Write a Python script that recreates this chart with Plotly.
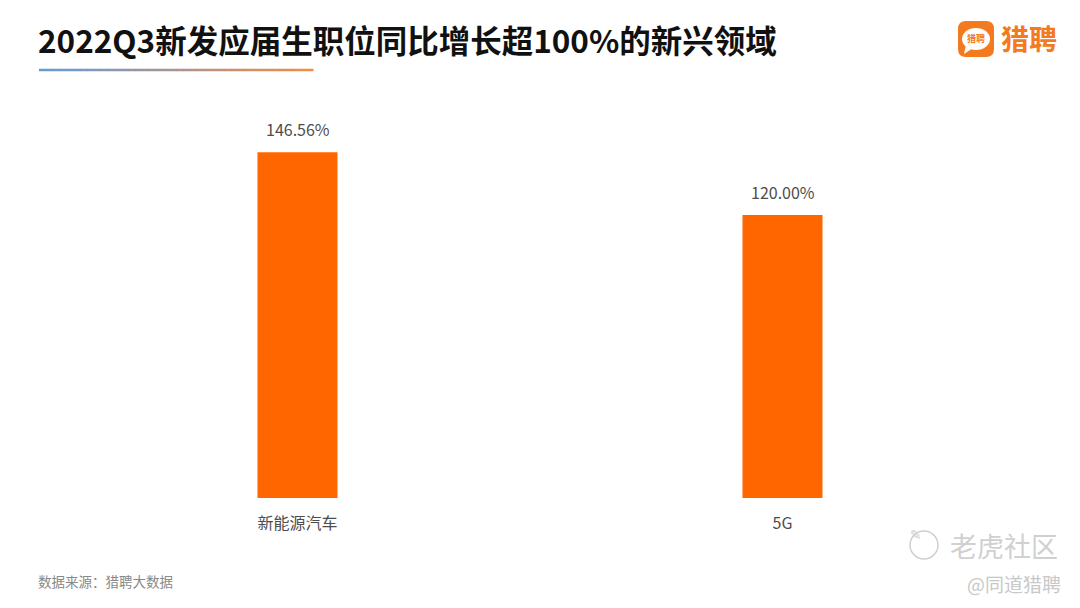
import plotly.graph_objects as go

categories = ["新能源汽车", "5G"]
values = [146.56, 120.00]
labels = ["146.56%", "120.00%"]

title_text = "2022Q3新发应届生职位同比增长超100%的新兴领域"
source_text = "数据来源：猎聘大数据"

FONT = "Noto Sans CJK SC"
BAR = "#ff6600"
OFF = 8  # page body margin
L, T, W, H = 47, 89, 970, 401
R = 1080 - L - W
B = 608 - T - H

def px(x):
    return (x - OFF - L) / W

def py(y):
    return (OFF + T + H - y) / H

fig = go.Figure()
fig.add_trace(go.Bar(
    x=categories, y=values,
    marker=dict(color=BAR, line=dict(width=0)),
    cliponaxis=False, width=0.165, hoverinfo="x+y",
))
for c, v, t in zip(categories, values, labels):
    fig.add_annotation(x=c, y=v, text=t, showarrow=False, yanchor="bottom",
                       yshift=9, font=dict(family=FONT, size=16, color="#4d4d4d"))

fig.update_layout(
    width=1080, height=608,
    margin=dict(l=L, r=R, t=T, b=B),
    paper_bgcolor="white", plot_bgcolor="white",
    showlegend=False,
    xaxis=dict(showline=False, showgrid=False, ticks="outside", ticklen=11,
               tickcolor="rgba(0,0,0,0)", zeroline=False,
               tickfont=dict(family=FONT, size=16, color="#4d4d4d")),
    yaxis=dict(range=[0, 170], visible=False, showgrid=False, zeroline=False),
    font=dict(family=FONT),
)

# Title
fig.add_annotation(xref="paper", yref="paper", x=px(36), y=py(39),
                   xanchor="left", yanchor="middle", showarrow=False,
                   text="<b>" + title_text + "</b>",
                   font=dict(family=FONT, size=31.5, color="#111111"))

# gradient underline
def lerp(a, b, t):
    return int(round(a + (b - a) * t))
c0 = (100, 155, 215)
c1 = (240, 140, 70)
n = 40
x0p, x1p, yp = 39, 313, 70
for i in range(n):
    t = i / (n - 1)
    col = "rgb(%d,%d,%d)" % tuple(lerp(c0[k], c1[k], t) for k in range(3))
    xa = x0p + (x1p - x0p) * i / n
    xb = x0p + (x1p - x0p) * (i + 1) / n
    fig.add_shape(type="line", xref="paper", yref="paper",
                  x0=px(xa), x1=px(xb) + 0.0005, y0=py(yp), y1=py(yp),
                  line=dict(color=col, width=2.5))

# Logo
lx0, lx1, ly0, ly1, r = 958, 994, 21, 57, 8
path = (f"M {px(lx0 + r)} {py(ly0)} L {px(lx1 - r)} {py(ly0)} "
        f"Q {px(lx1)} {py(ly0)} {px(lx1)} {py(ly0 + r)} L {px(lx1)} {py(ly1 - r)} "
        f"Q {px(lx1)} {py(ly1)} {px(lx1 - r)} {py(ly1)} L {px(lx0 + r)} {py(ly1)} "
        f"Q {px(lx0)} {py(ly1)} {px(lx0)} {py(ly1 - r)} L {px(lx0)} {py(ly0 + r)} "
        f"Q {px(lx0)} {py(ly0)} {px(lx0 + r)} {py(ly0)} Z")
fig.add_shape(type="path", xref="paper", yref="paper", path=path,
              fillcolor="#f47a20", line=dict(width=0))
fig.add_shape(type="circle", xref="paper", yref="paper",
              x0=px(962), x1=px(990), y0=py(50), y1=py(28),
              fillcolor="white", line=dict(width=0))
fig.add_shape(type="path", xref="paper", yref="paper",
              path=f"M {px(966)} {py(45)} L {px(964)} {py(54)} L {px(973)} {py(48)} Z",
              fillcolor="white", line=dict(width=0))
fig.add_annotation(xref="paper", yref="paper", x=px(976), y=py(39),
                   xanchor="center", yanchor="middle",
                   text="<b>猎聘</b>", showarrow=False,
                   font=dict(family=FONT, size=9, color="#f47a20"))
fig.add_annotation(xref="paper", yref="paper", x=px(999), y=py(38),
                   xanchor="left", yanchor="middle", text="<b>猎聘</b>", showarrow=False,
                   font=dict(family=FONT, size=28, color="#f47a20"))

# Source
fig.add_annotation(xref="paper", yref="paper", x=px(36), y=py(581),
                   xanchor="left", yanchor="middle", text=source_text, showarrow=False,
                   font=dict(family=FONT, size=13.5, color="#888888"))

# Watermark
fig.add_shape(type="circle", xref="paper", yref="paper",
              x0=px(910), x1=px(938), y0=py(559), y1=py(531),
              fillcolor="rgba(0,0,0,0)", line=dict(color="#d0d0d0", width=1.5))
fig.add_annotation(xref="paper", yref="paper", x=px(924), y=py(545),
                   text="✎", showarrow=False,
                   font=dict(family="DejaVu Sans", size=14, color="#d0d0d0"))
fig.add_annotation(xref="paper", yref="paper", x=px(948), y=py(545),
                   xanchor="left", yanchor="middle", text="老虎社区", showarrow=False,
                   font=dict(family=FONT, size=27, color="#d0d0d0"))
fig.add_annotation(xref="paper", yref="paper", x=px(1063), y=py(583),
                   xanchor="right", yanchor="middle", text="@同道猎聘", showarrow=False,
                   font=dict(family=FONT, size=19, color="#c8c8c8"))

fig.write_html("out.html")
